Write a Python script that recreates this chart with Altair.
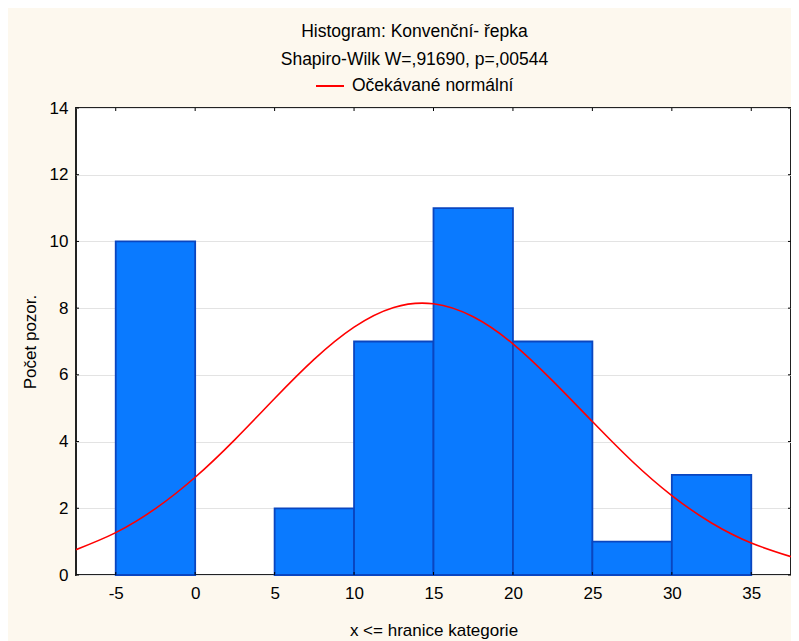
import altair as alt
import pandas as pd

# ---- data ----
bin_start = [-5, 0, 5, 10, 15, 20, 25, 30]
bin_end = [0, 5, 10, 15, 20, 25, 30, 35]
counts = [10, 0, 2, 7, 11, 7, 1, 3]

curve_x = [-7.5, -5, -2.5, 0, 2.5, 5, 7.5, 10, 12.5, 15, 17.5, 20, 22.5, 25, 27.5, 30, 32.5, 35, 37.5]
curve_y = [0.76, 1.27, 1.99, 2.93, 4.06, 5.29, 6.47, 7.43, 8.02, 8.13, 7.74, 6.93, 5.82, 4.60, 3.41, 2.38, 1.56, 0.96, 0.55]

x_ticks = [-5, 0, 5, 10, 15, 20, 25, 30, 35]
y_ticks = [0, 2, 4, 6, 8, 10, 12, 14]

title_text = "Histogram: Konvenční- řepka"
subtitle_text = "Shapiro-Wilk W=,91690, p=,00544"
legend_label = "Očekávané normální"
x_title = "x <= hranice kategorie"
y_title = "Počet pozor."

FONT = "Liberation Sans"
W, H = 715, 467
FS = 17
TFS = 17.5

bars_df = pd.DataFrame({"start": bin_start, "end": bin_end, "count": counts})
curve_df = pd.DataFrame({"x": curve_x, "y": curve_y, "s": [legend_label] * len(curve_x)})
xt_df = pd.DataFrame({"t": x_ticks})
yt_df = pd.DataFrame({"t": y_ticks})

xscale = alt.Scale(domain=[-7.5, 37.5], nice=False, zero=False)
yscale = alt.Scale(domain=[0, 14], nice=False)

x_axis = alt.Axis(values=x_ticks, grid=False, domain=False, ticks=False, labelPadding=10,
                  labelExpr="'' + datum.value",
                  labelFontSize=FS, titleFontSize=FS, titleFontWeight="normal",
                  labelFont=FONT, titleFont=FONT, titlePadding=21,
                  labelColor="black", titleColor="black")
y_axis = alt.Axis(values=y_ticks, grid=True, gridColor="#e3e3e3", gridWidth=1, domain=False,
                  ticks=False, labelPadding=8, labelFontSize=FS, titleFontSize=FS,
                  titleFontWeight="normal", labelFont=FONT, titleFont=FONT, titlePadding=10,
                  labelColor="black", titleColor="black")

bars = alt.Chart(bars_df).transform_filter("datum.count > 0").mark_rect(
    fill="#0a7aff", stroke="#0a46c0", strokeWidth=1.8
).encode(
    x=alt.X("start:Q", scale=xscale, axis=x_axis, title=x_title),
    x2="end:Q",
    y=alt.Y("count:Q", scale=yscale, axis=y_axis, title=y_title),
    y2=alt.datum(0),
)

curve = alt.Chart(curve_df).mark_line(strokeWidth=1.6, interpolate="natural", clip=True).encode(
    x=alt.X("x:Q", scale=xscale, axis=x_axis, title=x_title),
    y=alt.Y("y:Q", scale=yscale, axis=y_axis, title=y_title),
    color=alt.Color("s:N", scale=alt.Scale(domain=[legend_label], range=["#ff0000"]),
                    legend=alt.Legend(title=None, orient="none", legendX=239, legendY=-37,
                                      symbolType="stroke", symbolSize=784, symbolStrokeWidth=2,
                                      labelFontSize=TFS, labelFont=FONT, labelColor="black",
                                      labelOffset=7, labelLimit=400, padding=0)),
)

tick_x_bottom = alt.Chart(xt_df).mark_rule(color="black", strokeWidth=1).encode(
    x=alt.X("t:Q", scale=xscale, axis=x_axis, title=x_title), y=alt.value(H), y2=alt.value(H - 3))
tick_x_top = alt.Chart(xt_df).mark_rule(color="black", strokeWidth=1).encode(
    x=alt.X("t:Q", scale=xscale, axis=x_axis, title=x_title), y=alt.value(0), y2=alt.value(3))
tick_y_left = alt.Chart(yt_df).mark_rule(color="black", strokeWidth=1).encode(
    y=alt.Y("t:Q", scale=yscale, axis=y_axis, title=y_title), x=alt.value(0), x2=alt.value(3))
tick_y_right = alt.Chart(yt_df).mark_rule(color="black", strokeWidth=1).encode(
    y=alt.Y("t:Q", scale=yscale, axis=y_axis, title=y_title), x=alt.value(W), x2=alt.value(W - 3))

chart = alt.layer(bars, curve, tick_x_bottom, tick_x_top, tick_y_left, tick_y_right).properties(
    width=W, height=H,
    background="#fdf8ee",
    autosize=alt.AutoSizeParams(type="none"),
    padding={"left": 68, "top": 100, "right": 0, "bottom": 66},
    title=alt.TitleParams(text=title_text, subtitle=subtitle_text, anchor="middle",
                          fontSize=TFS, subtitleFontSize=TFS, fontWeight="normal",
                          font=FONT, subtitleFont=FONT, color="black", subtitleColor="black",
                          offset=3, subtitlePadding=10, dx=-19),
).configure_view(stroke="#222222", strokeWidth=2, fill="white")

chart.save("out.html", embed_options={"renderer": "svg", "actions": False})
